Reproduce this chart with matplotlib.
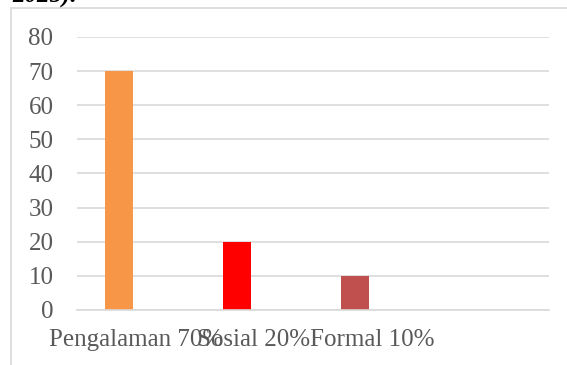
import matplotlib
matplotlib.use("Agg")
import matplotlib.pyplot as plt
import numpy as np
from matplotlib.patches import Rectangle

# data
categories = ["Pengalaman 70%", "Sosial 20%", "Formal 10%", ""]
values = [70, 20, 10, 0]
colors = ["#F79646", "#FF0000", "#C0504D", "#FFFFFF"]
yticks = [0, 10, 20, 30, 40, 50, 60, 70, 80]

W, H = 567, 365
plt.rcParams['font.family'] = ['Liberation Serif', 'DejaVu Serif']
fig = plt.figure(figsize=(W / 100, H / 100), dpi=100)

# chart frame (partly cut by the page)
fig.patches.append(Rectangle((11 / W, -0.1), 1.0, 1 - 8.5 / H + 0.1, transform=fig.transFigure,
                             fill=False, edgecolor="#d9d9d9", linewidth=1.2))
# caption text cut off at the top
fig.text(12 / W, 1 - 3 / H, "2025).", fontsize=18, fontweight="bold", style="italic",
         va="baseline", ha="left", color="black")

ax = fig.add_axes([77 / W, 55 / H, (549 - 77) / W, (310 - 37) / H])
x = np.arange(len(categories))
# the bars sit left of the category centre (first slot of a cluster)
ax.bar(x - 0.144, values, width=0.23, color=colors)
ax.set_xlim(-0.5, len(categories) - 0.5)
ax.set_ylim(0, 80)
ax.set_yticks(yticks)
ax.set_xticks(x)
ax.set_xticklabels(categories)
ax.grid(axis="y", color="#d9d9d9", linewidth=1.2)
ax.set_axisbelow(True)
for s in ["top", "right", "left"]:
    ax.spines[s].set_visible(False)
ax.spines["bottom"].set_color("#d9d9d9")
ax.spines["bottom"].set_linewidth(1.2)
ax.tick_params(length=0, labelsize=18, labelcolor="#595959")
ax.tick_params(axis="y", pad=17)
ax.tick_params(axis="x", pad=14)

fig.savefig("out.png", dpi=100)
